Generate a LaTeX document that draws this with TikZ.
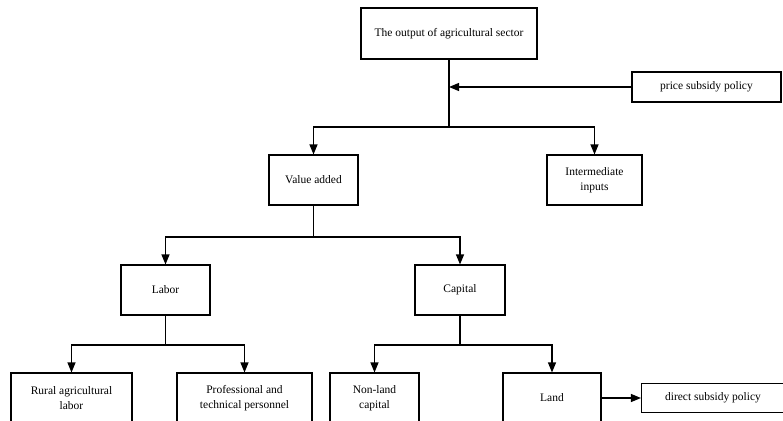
\documentclass[tikz,border=0pt]{standalone}
\usepackage{fontspec}
\setmainfont{Liberation Serif}
\usetikzlibrary{arrows.meta,positioning}

\tikzset{
    box/.style={draw, line width=1.1pt, align=center, inner sep=2pt,
        font=\fontsize{11.5}{14.5}\selectfont},
    link/.style={line width=1.1pt},
    arr/.style={link, -{Triangle[width=8pt,length=10pt]}}
}

\begin{document}
\begin{tikzpicture}[x=1pt,y=-1pt]
    % Page size of the reference
    \useasboundingbox (0,0) rectangle (783,420);

    % Top level
    \node[box, minimum width=176pt, minimum height=51pt] (output) at (449,33.5) {The output of agricultural sector};
    \node[box, minimum width=149pt, minimum height=30pt] (price) at (706.5,87) {price subsidy policy};

    % Second level
    \node[box, minimum width=89pt, minimum height=50pt] (value) at (313.5,180) {Value added};
    \node[box, minimum width=95pt, minimum height=50pt] (inter) at (594.5,180) {Intermediate\\inputs};

    % Third level
    \node[box, minimum width=89pt, minimum height=50pt] (labor) at (165.5,290) {Labor};
    \node[box, minimum width=90pt, minimum height=50pt] (capital) at (460,290) {Capital};

    % Bottom level
    \node[box, minimum width=121pt, minimum height=50pt] (rural) at (71.5,398) {Rural agricultural\\labor};
    \node[box, minimum width=135pt, minimum height=50pt] (prof) at (244.5,398) {Professional and\\technical personnel};
    \node[box, minimum width=89pt, minimum height=50pt] (nonland) at (374.5,398) {Non-land\\capital};
    \node[box, minimum width=98pt, minimum height=50pt] (land) at (552,398) {Land};
    \node[box, minimum width=143pt, minimum height=29pt] (direct) at (713,398) {direct subsidy policy};

    % Branch points
    \coordinate (jp) at (output.south |- price.west);
    \coordinate (j1) at (449,127);
    \coordinate (j2) at (313.5,237);
    \coordinate (j3) at (165.5,345);
    \coordinate (j4) at (460,345);

    % Connectors
    \draw[link] (output.south) -- (j1);
    \draw[arr] (price.west) -- (jp);
    \draw[arr] (j1) -| (value.north);
    \draw[arr] (j1) -| (inter.north);

    \draw[link] (value.south) -- (j2);
    \draw[arr] (j2) -| (labor.north);
    \draw[arr] (j2) -| (capital.north);

    \draw[link] (labor.south) -- (j3);
    \draw[arr] (j3) -| (rural.north);
    \draw[arr] (j3) -| (prof.north);

    \draw[link] (capital.south) -- (j4);
    \draw[arr] (j4) -| (nonland.north);
    \draw[arr] (j4) -| (land.north);

    \draw[arr] (land.east) -- (direct.west);
\end{tikzpicture}
\end{document}
